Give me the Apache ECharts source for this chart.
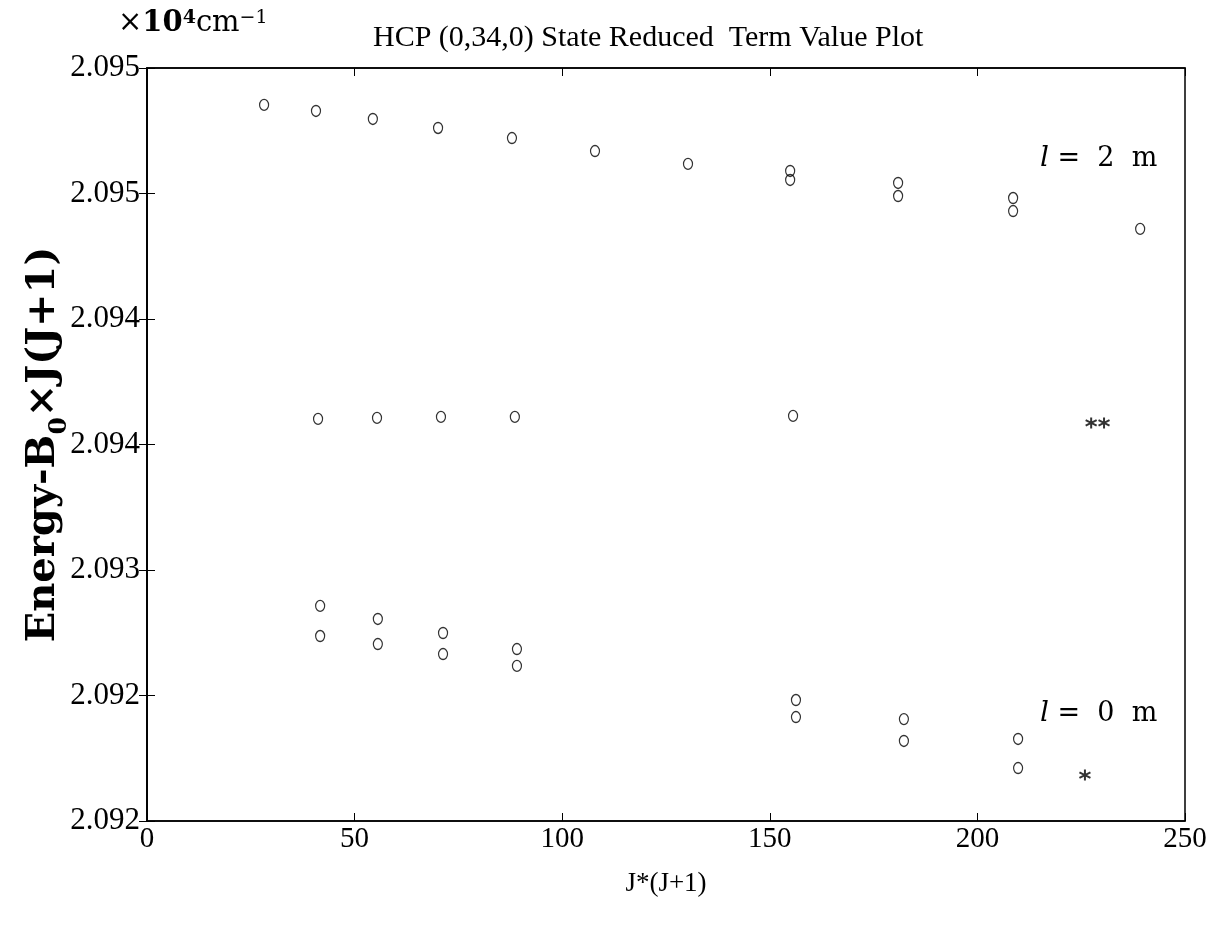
<!DOCTYPE html>
<html><head><meta charset="utf-8">
<script src="https://cdn.jsdelivr.net/npm/echarts@6/dist/echarts.min.js"></script>
<style>html,body{margin:0;padding:0;background:#fff}#c{width:1217px;height:925px}</style>
</head><body><div id="c"></div>
<script>
// Data (x = J*(J+1), y = Energy - B0*J(J+1) in 10^4 cm^-1)
const upperX = [28.2, 40.7, 54.4, 70.1, 87.9, 107.9, 130.3, 154.9, 154.9, 180.9, 180.9, 208.6, 208.6, 239.2];
const upperY = [2.094853, 2.094829, 2.094797, 2.094761, 2.094721, 2.094669, 2.094618, 2.094590, 2.094554, 2.094542, 2.094490, 2.094482, 2.094430, 2.094359];
const middleX = [41.2, 55.4, 70.8, 88.6, 155.6];
const middleY = [2.093602, 2.093606, 2.093610, 2.093610, 2.093614];
const lowerX = [41.7, 41.7, 55.6, 55.6, 71.3, 71.3, 89.1, 89.1, 156.3, 156.3, 182.3, 182.3, 209.8, 209.8];
const lowerY = [2.092857, 2.092737, 2.092805, 2.092705, 2.092749, 2.092665, 2.092685, 2.092618, 2.092482, 2.092414, 2.092406, 2.092319, 2.092327, 2.092211];
const starX = [227.4, 230.5, 225.9];
const starY = [2.093586, 2.093586, 2.092183];
const yTickLabels = ["2.092", "2.092", "2.093", "2.094", "2.094", "2.095", "2.095"];
const xTickLabels = ["0", "50", "100", "150", "200", "250"];

const zip = (xs, ys) => xs.map((x, i) => [x, ys[i]]);
const serif = '"Liberation Serif", "DejaVu Serif", serif';
const cm = '"DejaVu Serif", serif';
const circleSym = 'path://M0,-6A5,6 0 1,1 0,6A5,6 0 1,1 0,-6Z';
const astSym = 'path://M0,-5L0,5M-4.33,-2.5L4.33,2.5M-4.33,2.5L4.33,-2.5';
const circStyle = { color: 'rgba(0,0,0,0)', borderColor: '#000', borderWidth: 1.3 };
const lRich = {
  i: { fontStyle: 'italic', fontFamily: cm, fontSize: 28, color: '#000' },
  t: { fontFamily: cm, fontSize: 27, color: '#000' }
};

const chart = echarts.init(document.getElementById('c'));
const yMin = 2.092, yInt = 0.0005;
chart.setOption({
  animation: false,
  backgroundColor: '#fff',
  title: {
    text: 'HCP (0,34,0) State Reduced  Term Value Plot',
    left: 368, top: 18,
    textStyle: { fontFamily: serif, fontSize: 30, fontWeight: 'normal', color: '#000' }
  },
  graphic: [
    { type: 'text', left: 118, top: 9,
      style: { text: '{t|×}{b|10}{bs|4}{t|cm}{s|−1}',
        rich: {
          t: { fontFamily: cm, fontSize: 29, color: '#000', verticalAlign: 'bottom' },
          b: { fontFamily: cm, fontSize: 29, fontWeight: 'bold', color: '#000', verticalAlign: 'bottom' },
          bs: { fontFamily: cm, fontSize: 19, fontWeight: 'bold', color: '#000', verticalAlign: 'top' },
          s: { fontFamily: cm, fontSize: 19, color: '#000', verticalAlign: 'top' }
        } } },
    { type: 'text', left: 1040, top: 145,
      style: { text: '{i|l} {t|=  2  m}', rich: lRich, font: '27px ' + cm, fill: '#000' } },
    { type: 'text', left: 1040, top: 700,
      style: { text: '{i|l} {t|=  0  m}', rich: lRich, font: '27px ' + cm, fill: '#000' } }
  ],
  grid: { left: 147, right: 32, top: 68, bottom: 104, show: true, borderColor: '#000', borderWidth: 1.5, backgroundColor: 'transparent' },
  xAxis: [{
    type: 'value', min: 0, max: 250, interval: 50,
    name: 'J*(J+1)', nameLocation: 'middle', nameGap: 49, nameMoveOverlap: false,
    nameTextStyle: { fontFamily: serif, fontSize: 27, color: '#000' },
    axisLine: { lineStyle: { color: '#000', width: 1.5 } },
    axisTick: { inside: true, length: 8, lineStyle: { color: '#000' } },
    axisLabel: { fontFamily: serif, fontSize: 29, color: '#000', margin: 4,
      formatter: (v) => xTickLabels[Math.round(v / 50)] },
    splitLine: { show: false }
  }, {
    type: 'value', min: 0, max: 250, interval: 50, position: 'top',
    axisLine: { show: true, lineStyle: { color: '#000', width: 1.5 } },
    axisTick: { inside: true, length: 8, lineStyle: { color: '#000' } },
    axisLabel: { show: false }, splitLine: { show: false }
  }],
  yAxis: [{
    type: 'value', min: yMin, max: 2.095, interval: yInt,
    name: '{b|Energy-B}{s|0}{b|×J(J+1)}', nameLocation: 'middle', nameGap: 83, nameRotate: 90, nameMoveOverlap: false,
    nameTextStyle: { color: '#000',
      rich: { b: { fontFamily: cm, fontSize: 40, fontWeight: 'bold', color: '#000', verticalAlign: 'bottom' },
              s: { fontFamily: cm, fontSize: 25, fontWeight: 'bold', color: '#000', verticalAlign: 'bottom', padding: [0, 0, -8, 0] } } },
    axisLine: { lineStyle: { color: '#000', width: 1.5 } },
    axisTick: { inside: true, length: 8, lineStyle: { color: '#000' } },
    axisLabel: { fontFamily: serif, fontSize: 31, color: '#000', margin: 7,
      formatter: (v) => yTickLabels[Math.round((v - yMin) / yInt)] },
    splitLine: { show: false }
  }, {
    type: 'value', min: yMin, max: 2.095, interval: yInt, position: 'right',
    axisLine: { show: true, lineStyle: { color: '#000', width: 1.5 } },
    axisTick: { inside: true, length: 8, lineStyle: { color: '#000' } },
    axisLabel: { show: false }, splitLine: { show: false }
  }],
  series: [
    { type: 'scatter', data: zip(upperX, upperY), symbol: circleSym, symbolSize: [9, 11], itemStyle: circStyle },
    { type: 'scatter', data: zip(middleX, middleY), symbol: circleSym, symbolSize: [9, 11], itemStyle: circStyle },
    { type: 'scatter', data: zip(lowerX, lowerY), symbol: circleSym, symbolSize: [9, 11], itemStyle: circStyle },
    { type: 'scatter', data: zip(starX, starY), symbol: astSym, symbolSize: 11,
      itemStyle: { color: '#000', borderColor: '#000', borderWidth: 2 } }
  ]
});
</script></body></html>
